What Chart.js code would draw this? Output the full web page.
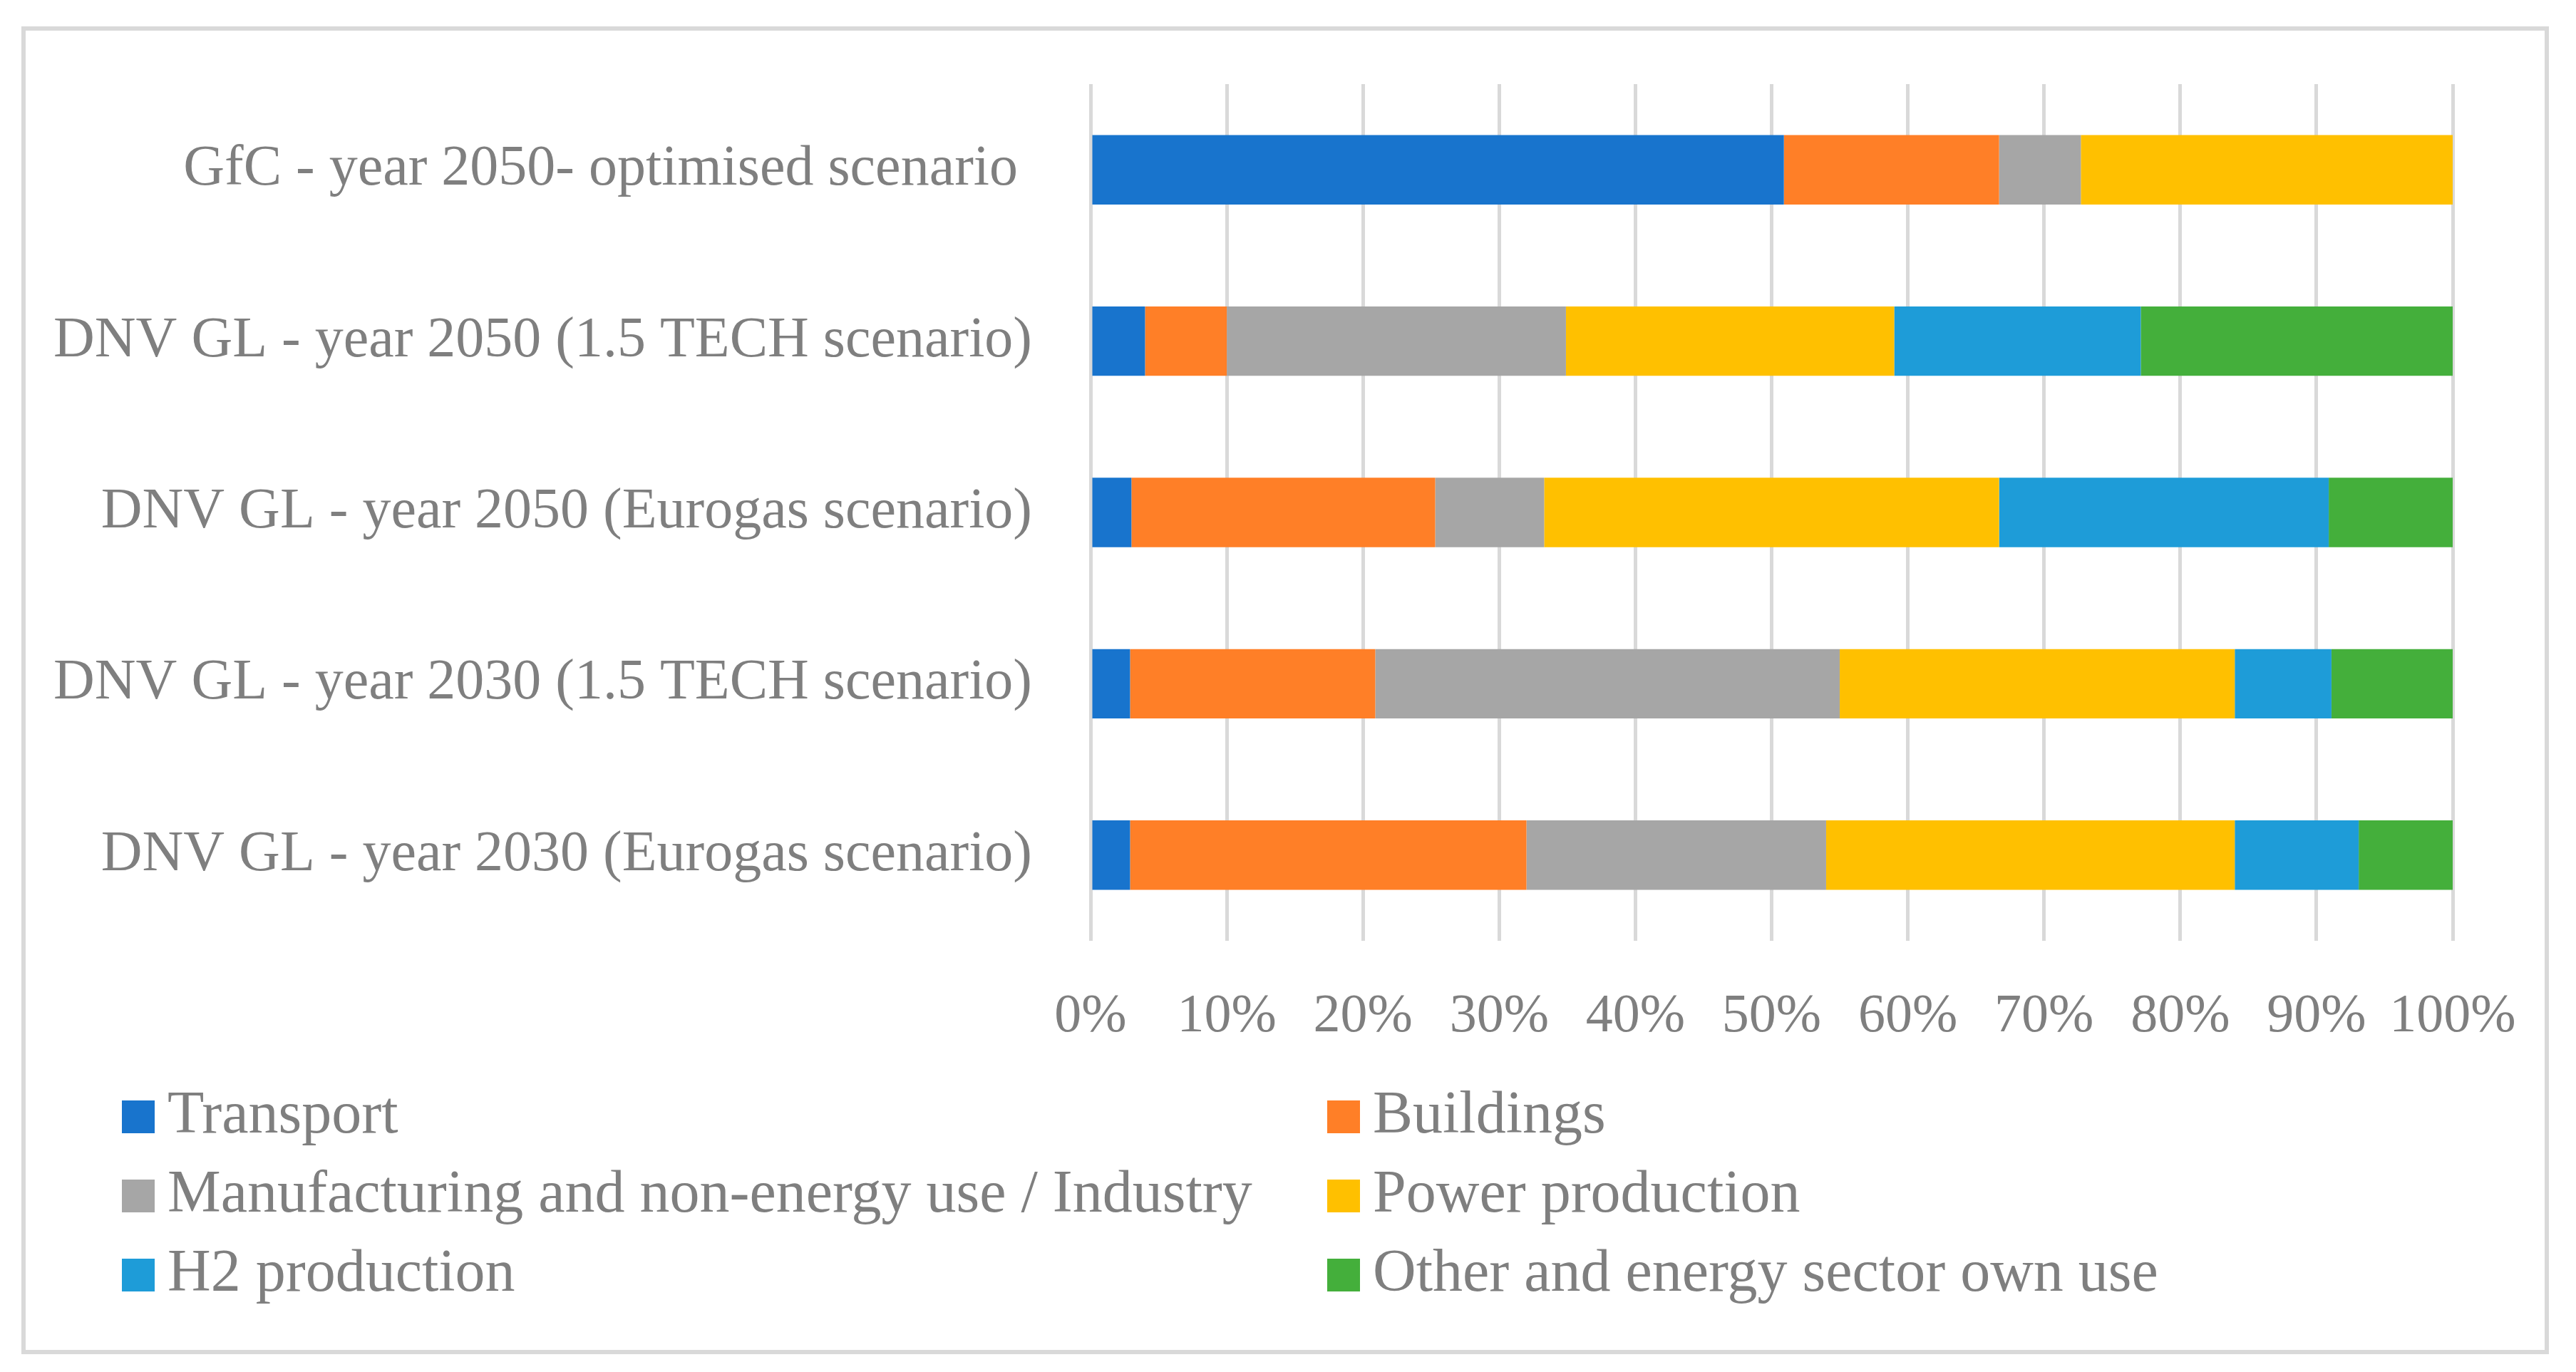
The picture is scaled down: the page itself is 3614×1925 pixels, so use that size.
<!DOCTYPE html>
<html>
<head>
<meta charset="utf-8">
<script src="https://cdn.jsdelivr.net/npm/chart.js@4/dist/chart.umd.min.js"></script>
<style>
  html, body { margin: 0; padding: 0; background: #ffffff; }
  #c { display: block; }
</style>
</head>
<body>
<canvas id="c" width="3614" height="1925" style="width:3614px;height:1925px"></canvas>
<script>
const categories = [
  "GfC - year 2050- optimised scenario ",
  "DNV GL - year 2050 (1.5 TECH scenario)",
  "DNV GL - year 2050 (Eurogas scenario)",
  "DNV GL - year 2030 (1.5 TECH scenario)",
  "DNV GL - year 2030 (Eurogas scenario)"
];
const seriesNames = [
  "Transport",
  "Buildings",
  "Manufacturing and non-energy use / Industry",
  "Power production",
  "H2 production",
  "Other and energy sector own use"
];
const transport = [50.9, 4.0, 3.0, 2.9, 2.9];
const buildings = [15.8, 6.0, 22.3, 18.0, 29.1];
const industry  = [6.0, 24.9, 8.0, 34.1, 22.0];
const power     = [27.3, 24.1, 33.4, 29.0, 30.0];
const h2        = [0, 18.1, 24.2, 7.1, 9.1];
const other     = [0, 22.9, 9.1, 8.9, 6.9];
const tickValues = [0, 10, 20, 30, 40, 50, 60, 70, 80, 90, 100];

const colors = ["#1874CD", "#FF7F27", "#A6A6A6", "#FFC000", "#1E9CD8", "#44AF3B"];
const seriesValues = [transport, buildings, industry, power, h2, other];

const FONT = "'Liberation Serif', 'Times New Roman', serif";
const TEXT = "#7f7f7f";

const frame = {
  id: 'frame',
  beforeDraw(chart) {
    const ctx = chart.ctx;
    ctx.save();
    ctx.fillStyle = '#ffffff';
    ctx.fillRect(0, 0, chart.width, chart.height);
    ctx.strokeStyle = '#d9d9d9';
    ctx.lineWidth = 6;
    ctx.strokeRect(33, 40, 3540, 1857);
    ctx.restore();
  }
};

const gridLegend = {
  id: 'gridLegend',
  afterDraw(chart) {
    const ctx = chart.ctx;
    const colX = [171, 1862];
    const rowY = [1567, 1678, 1789];
    const box = 46;
    ctx.save();
    ctx.font = "84px " + FONT;
    ctx.textBaseline = 'middle';
    ctx.textAlign = 'left';
    chart.data.datasets.forEach((ds, i) => {
      const x = colX[i % 2];
      const y = rowY[Math.floor(i / 2)];
      ctx.fillStyle = ds.backgroundColor;
      ctx.fillRect(x, y - box / 2, box, box);
      ctx.fillStyle = TEXT;
      ctx.fillText(ds.label, x + box + 18, y);
    });
    ctx.restore();
  }
};

new Chart(document.getElementById('c'), {
  type: 'bar',
  data: {
    labels: categories,
    datasets: seriesNames.map((name, i) => ({
      label: name,
      data: seriesValues[i],
      backgroundColor: colors[i],
      borderWidth: 0,
      categoryPercentage: 1.0,
      barPercentage: 0.405
    }))
  },
  options: {
    indexAxis: 'y',
    responsive: false,
    devicePixelRatio: 1,
    animation: false,
    layout: { padding: { left: 40, right: 173, top: 118, bottom: 455 } },
    plugins: {
      legend: { display: false },
      tooltip: { enabled: false }
    },
    scales: {
      x: {
        stacked: true,
        min: 0,
        max: 100,
        afterBuildTicks(scale) { scale.ticks = tickValues.map(v => ({ value: v })); },
        afterFit(scale) { scale.height = 150; },
        grid: { color: '#d9d9d9', lineWidth: 5, drawTicks: false },
        border: { display: false },
        ticks: {
          padding: 61,
          color: TEXT,
          font: { family: FONT, size: 76 },
          maxRotation: 0,
          autoSkip: false,
          callback: v => v + '%'
        }
      },
      y: {
        stacked: true,
        afterFit(scale) { scale.width = 1490; scale.paddingTop = 0; scale.paddingBottom = 0; },
        grid: { display: false, drawTicks: false },
        border: { display: false },
        ticks: {
          padding: 82,
          color: TEXT,
          font: { family: FONT, size: 80 }
        }
      }
    }
  },
  plugins: [frame, gridLegend]
});
</script>
</body>
</html>
